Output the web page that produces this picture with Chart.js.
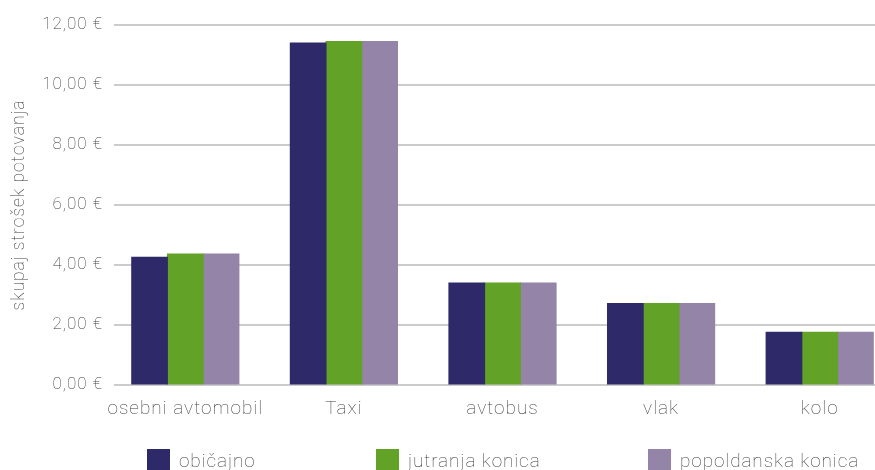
<!DOCTYPE html>
<html><head><meta charset="utf-8">
<script src="https://cdn.jsdelivr.net/npm/chart.js@4/dist/chart.umd.min.js"></script>
<style>
html,body{margin:0;padding:0;overflow:hidden;background:#fff;width:875px;height:470px}
#wrap{position:absolute;left:0;top:0;width:899px;height:482px}
#legend{position:absolute;left:0;top:0;width:899px;height:482px;pointer-events:none}
.li{position:absolute;top:449px;height:23px;display:flex;align-items:center;font-family:Roboto,sans-serif;font-weight:100;font-size:19px;letter-spacing:0.9px;color:#3a3a3a;white-space:nowrap}
.li i{display:inline-block;width:23px;height:23px;margin-right:9px}
</style></head><body>
<div id="wrap"><canvas id="c" width="899" height="482"></canvas></div>
<div id="legend"></div>
<script>
const categories = ['osebni avtomobil', 'Taxi', 'avtobus', 'vlak', 'kolo'];
const seriesNames = ['običajno', 'jutranja konica', 'popoldanska konica'];
const obicajno = [4.26, 11.40, 3.40, 2.72, 1.76];
const jutranjaKonica = [4.37, 11.45, 3.40, 2.72, 1.76];
const popoldanskaKonica = [4.37, 11.45, 3.40, 2.72, 1.76];
const yTicks = [0, 2, 4, 6, 8, 10, 12];
const yTitle = 'skupaj strošek potovanja';

const colors = ['#2e2a69', '#62a226', '#9484a8'];
const legendLeft = [147, 376, 648];
const FONT = 'Roboto';
const TXT = '#3a3a3a';

const seriesValues = [obicajno, jutranjaKonica, popoldanskaKonica];

const gridCover = {
  id: 'gridCover',
  beforeDatasetsDraw(chart) {
    const a = chart.chartArea, ctx = chart.ctx;
    ctx.save();
    ctx.fillStyle = '#fff';
    ctx.fillRect(a.left - 2, a.top - 3, 10, a.bottom - a.top + 6);
    ctx.restore();
  }
};
const spacing = {
  id: 'spacing',
  beforeDraw(chart) { chart.ctx.letterSpacing = '1px'; },
  afterDraw(chart) { chart.ctx.letterSpacing = '0px'; }
};

new Chart(document.getElementById('c'), {
  type: 'bar',
  data: {
    labels: categories,
    datasets: seriesNames.map((n, i) => ({
      label: n,
      data: seriesValues[i],
      backgroundColor: colors[i],
      borderWidth: 0,
      inflateAmount: 0.5,
      categoryPercentage: 0.676,
      barPercentage: 1.0
    }))
  },
  options: {
    responsive: false,
    animation: false,
    devicePixelRatio: 1,
    layout: { padding: { top: 25, bottom: 57, left: 0, right: 0 } },
    plugins: { legend: { display: false }, tooltip: { enabled: false } },
    scales: {
      x: {
        grid: { display: false, drawTicks: false },
        border: { display: false },
        ticks: { color: TXT, font: { family: FONT, weight: 100, size: 19 }, padding: 13 },
        afterFit(s) { s.height = 40; }
      },
      y: {
        min: 0, max: 12,
        afterBuildTicks(s) { s.ticks = yTicks.map(v => ({ value: v })); },
        grid: { color: '#cccccc', lineWidth: 2, drawTicks: false },
        border: { display: false },
        ticks: {
          color: TXT, font: { family: FONT, weight: 100, size: 17 }, padding: 3,
          callback: v => v.toFixed(2).replace('.', ',') + ' €'
        },
        title: { display: true, text: yTitle, color: TXT, font: { family: FONT, weight: 100, size: 17.5 }, padding: { top: 9, bottom: 0 } },
        afterFit(s) { s.width = 106; }
      }
    }
  },
  plugins: [gridCover, spacing]
});

const leg = document.getElementById('legend');
seriesNames.forEach((n, i) => {
  const d = document.createElement('div');
  d.className = 'li';
  d.style.left = legendLeft[i] + 'px';
  const sw = document.createElement('i');
  sw.style.background = colors[i];
  d.appendChild(sw);
  d.appendChild(document.createTextNode(n));
  leg.appendChild(d);
});
</script>
</body></html>
